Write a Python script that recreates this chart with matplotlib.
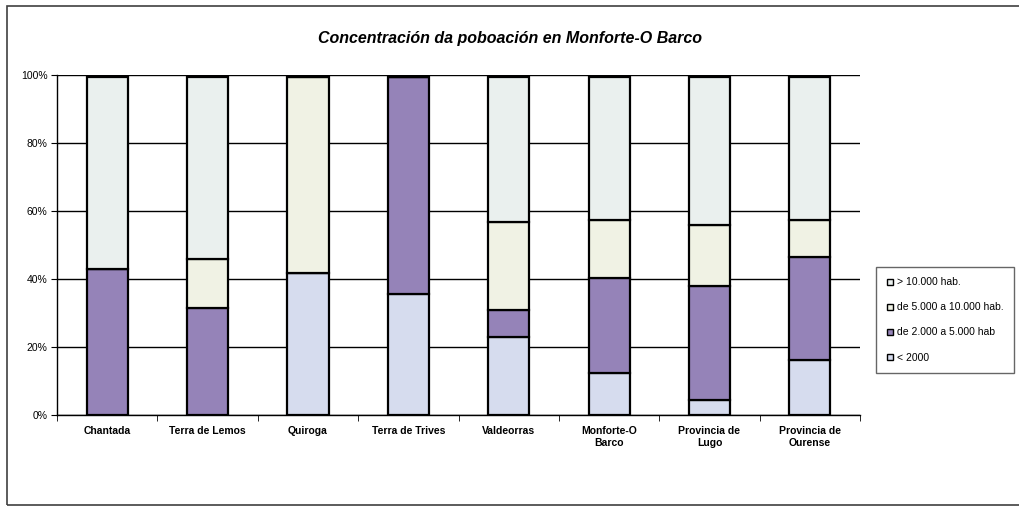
import matplotlib.pyplot as plt
import matplotlib.patches as mpatches
from matplotlib.lines import Line2D
import numpy as np

plt.rcParams['font.family'] = ['Liberation Sans', 'DejaVu Sans']

categories = ["Chantada", "Terra de Lemos", "Quiroga", "Terra de Trives", "Valdeorras",
              "Monforte-O\nBarco", "Provincia de\nLugo", "Provincia de\nOurense"]

# shares in percent, bottom to top
menos_2000 = [0.0, 0.0, 41.7, 35.5, 22.9, 12.4, 4.4, 16.3]
de_2000_5000 = [43.0, 31.5, 0.0, 64.0, 8.0, 27.9, 33.5, 30.1]
de_5000_10000 = [0.0, 14.4, 57.6, 0.0, 26.0, 17.2, 18.1, 11.1]
mais_10000 = [56.5, 53.6, 0.2, 0.0, 42.6, 42.0, 43.5, 42.0]

series = [
    ("< 2000", menos_2000, "#d6dcee"),
    ("de 2.000 a 5.000 hab", de_2000_5000, "#9583b8"),
    ("de 5.000 a 10.000 hab.", de_5000_10000, "#f0f2e4"),
    ("> 10.000 hab.", mais_10000, "#eaf0ee"),
]

fig = plt.figure(figsize=(10.19, 5.11), dpi=100)
ax = fig.add_axes([0.056, 0.188, 0.788, 0.665])

# outer chart border
fig.patches.append(mpatches.Rectangle((7 / 1019, 6 / 511), 1.0, 499 / 511,
                                      transform=fig.transFigure, fill=False,
                                      edgecolor="#404040", linewidth=1.2))

x = np.arange(len(categories))
bottom = np.zeros(len(categories))
for label, vals, color in series:
    ax.bar(x, vals, width=0.41, bottom=bottom, color=color,
           edgecolor="black", linewidth=1.6, zorder=3)
    bottom += np.array(vals)

ax.set_xlim(-0.5, len(categories) - 0.5)
ax.set_ylim(0, 100)
ax.set_yticks([0, 20, 40, 60, 80, 100])
ax.set_yticklabels([f"{v}%" for v in [0, 20, 40, 60, 80, 100]], fontsize=7.5)
ax.yaxis.grid(True, color="black", linewidth=1)
ax.set_axisbelow(True)

ax.set_xticks(x)
ax.set_xticklabels(categories, fontsize=7.5, fontweight="bold")
ax.tick_params(axis="x", length=0, pad=8)
ax.set_xticks(np.arange(len(categories) + 1) - 0.5, minor=True)
ax.tick_params(axis="x", which="minor", length=4, direction="out", color="black")
ax.tick_params(axis="y", length=4, direction="out", color="black", pad=3)

for s in ["top", "right"]:
    ax.spines[s].set_visible(False)
ax.spines["left"].set_linewidth(1)
ax.spines["bottom"].set_linewidth(1)

fig.text(0.5, 0.925, "Concentración da poboación en Monforte-O Barco",
         ha="center", va="center", fontsize=11.5, fontweight="bold", style="italic")

handles = [Line2D([], [], linestyle="none", marker="s", markersize=4,
                  markerfacecolor=c, markeredgecolor="black", markeredgewidth=1)
           for _, _, c in series[::-1]]
labels = [l for l, _, _ in series[::-1]]
leg = fig.legend(handles, labels, loc="center left",
                 bbox_to_anchor=(876 / 1019, 0.374), fontsize=7.5,
                 frameon=True, fancybox=False, edgecolor="#404040",
                 handlelength=0.6, handletextpad=0.4, labelspacing=1.45,
                 borderpad=1.0, borderaxespad=0)
leg.get_frame().set_linewidth(1)

plt.savefig("out.png", dpi=100)
